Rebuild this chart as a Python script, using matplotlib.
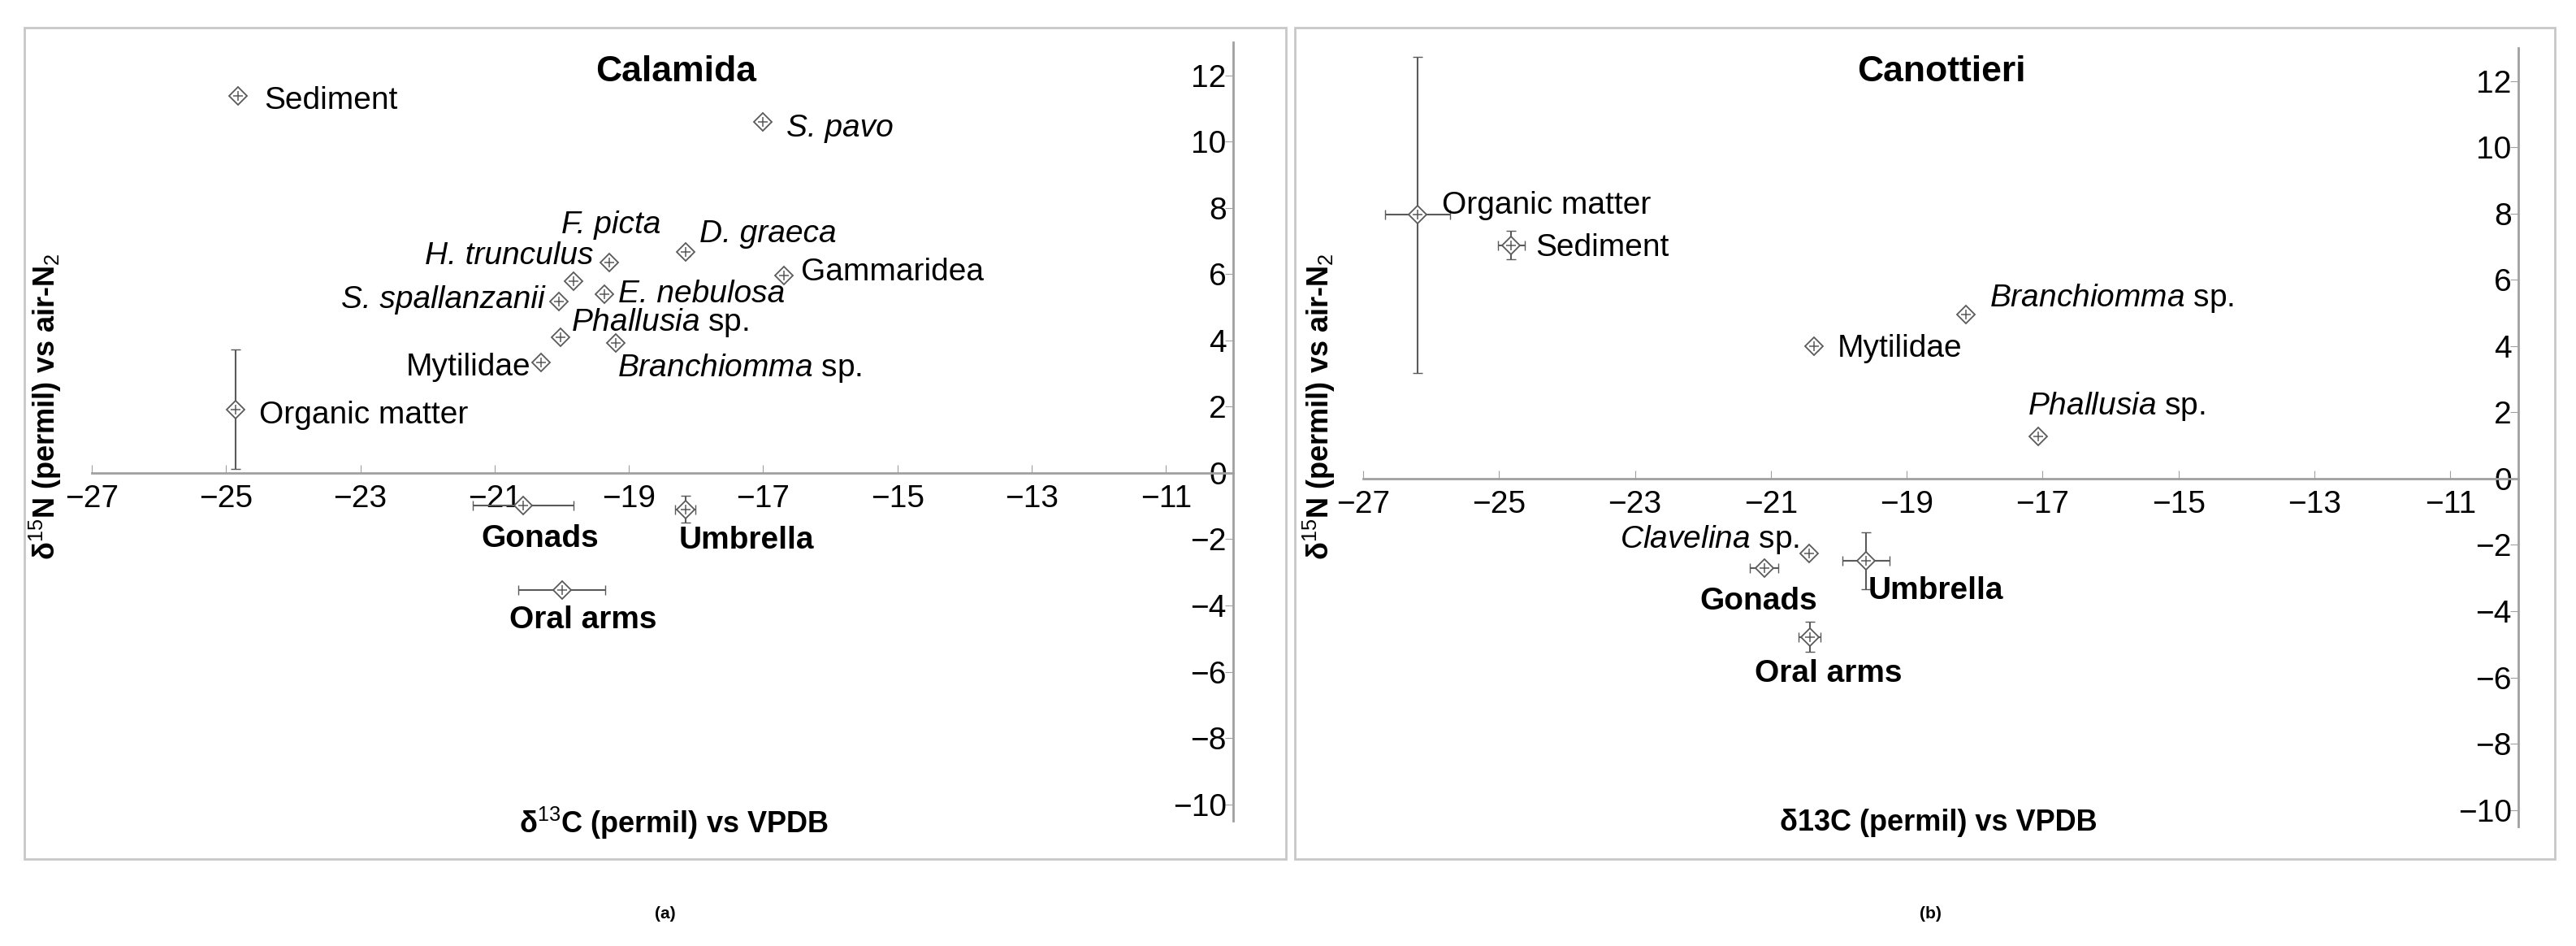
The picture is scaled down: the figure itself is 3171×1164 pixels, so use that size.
import matplotlib
matplotlib.use("Agg")
import matplotlib.pyplot as plt
from matplotlib.patches import Rectangle

plt.rcParams['font.family'] = ['Liberation Sans', 'DejaVu Sans']
plt.rcParams['mathtext.fontset'] = 'custom'
plt.rcParams['mathtext.rm'] = 'Liberation Sans'
plt.rcParams['mathtext.it'] = 'Liberation Sans:italic'
plt.rcParams['mathtext.bf'] = 'Liberation Sans:bold'

# Calamida (a)
cal_names = ["Sediment", "Organic matter", "S. pavo", "D. graeca", "Gammaridea",
             "E. nebulosa", r"$\it{Phallusia}$ sp.", r"$\it{Branchiomma}$ sp.",
             "F. picta", "H. trunculus", "S. spallanzanii", "Mytilidae",
             "Gonads", "Umbrella", "Oral arms"]
cal_c = [-24.82, -24.86, -17.0, -18.15, -16.69, -19.37, -20.02, -19.19, -19.82, -19.29, -20.04, -20.31,
         -20.58, -18.16, -20.0]
cal_n = [11.38, 1.92, 10.6, 6.66, 5.97, 5.4, 4.09, 3.92, 5.78, 6.36, 5.17, 3.33, -0.98, -1.1, -3.54]
cal_cerr = [0, 0, 0, 0.05, 0, 0, 0, 0, 0, 0, 0, 0, 0.75, 0.15, 0.65]
cal_nerr = [0, 1.8, 0, 0.1, 0, 0, 0, 0, 0, 0, 0, 0, 0, 0.4, 0.1]
cal_bold = [False] * 12 + [True] * 3
cal_ital = [False, False, True, True, False, True, False, False, True, True, True, False, False, False, False]
# label offsets in pixels and alignment
cal_off = [(32, -6), (29, -7), (29, -8), (17, 22), (21, 4), (17, 0), (13, 18), (2, -31),
           (46, 69), (-20, 8), (-18, 2), (-13, -6), (21, -41), (75, -38), (26, -37)]
cal_ha = ["left", "left", "left", "left", "left", "left", "left", "left", "center", "right",
          "right", "right", "center", "center", "center"]

# Canottieri (b)
can_names = ["Organic matter", "Sediment", "Mytilidae", r"$\it{Branchiomma}$ sp.", r"$\it{Phallusia}$ sp.",
             r"$\it{Clavelina}$ sp.", "Gonads", "Umbrella", "Oral arms"]
can_c = [-26.2, -24.82, -20.36, -18.13, -17.07, -20.44, -21.1, -19.6, -20.43]
can_n = [7.96, 7.05, 4.0, 4.96, 1.27, -2.27, -2.69, -2.48, -4.78]
can_cerr = [0.48, 0.2, 0.05, 0, 0, 0, 0.21, 0.35, 0.16]
can_nerr = [4.78, 0.42, 0.05, 0, 0, 0, 0, 0.86, 0.45]
can_bold = [False] * 6 + [True] * 3
can_ital = [False] * 9
can_off = [(30, 11), (30, -3), (28, -3), (29, 20), (-13, 37), (-12, 17), (-7, -41), (3, -37), (23, -45)]
can_ha = ["left", "left", "left", "left", "left", "right", "center", "left", "center"]

W, H = 3171, 1164
fig = plt.figure(figsize=(W / 100, H / 100), dpi=100)

# panel frames
for x0, x1 in [(30, 1583), (1594, 3145)]:
    fig.patches.append(Rectangle((x0 / W, 1 - 1057 / H), (x1 - x0) / W, (1057 - 34) / H,
                                 transform=fig.transFigure, fill=False, edgecolor="#c8c8c8", lw=2))

gray = "#5a5a5a"


def panel(rect, c, n, cerr, nerr, names, off, ha, bold, ital, xlim):
    ax = fig.add_axes(rect)
    ax.errorbar(c, n, xerr=cerr, yerr=nerr, fmt="none", ecolor=gray, elinewidth=1.5, capsize=4)
    ax.plot(c, n, "D", ms=11, mfc="white", mec=gray, mew=1.3, ls="none")
    ax.plot(c, n, "+", ms=9, color=gray, mew=1.1, ls="none")
    for xi, yi, s, o, h, b, it in zip(c, n, names, off, ha, bold, ital):
        ax.annotate(s, (xi, yi), xytext=o, textcoords="offset pixels", ha=h, va="center",
                    fontsize=28, fontweight="bold" if b else "normal",
                    fontstyle="italic" if it else "normal")
    ax.set_xlim(*xlim)
    ax.set_ylim(-10.5, 13)
    ax.set_xticks(range(-27, -10, 2))
    ax.set_yticks(range(-10, 13, 2))
    ax.spines["top"].set_visible(False)
    ax.spines["left"].set_visible(False)
    ax.spines["bottom"].set_position(("data", 0))
    for sp in ["bottom", "right"]:
        ax.spines[sp].set_color("#a0a0a0")
        ax.spines[sp].set_linewidth(2)
    ax.yaxis.tick_right()
    ax.tick_params(axis="x", direction="in", length=7, color="#a0a0a0", labelsize=28, pad=10)
    ax.tick_params(axis="y", direction="in", length=7, color="#a0a0a0", labelsize=28, pad=-6)
    for lab in ax.get_yticklabels():
        lab.set_horizontalalignment("right")
    ax.patch.set_alpha(0)
    return ax


panel([113 / W, 1 - 1010 / H, (1518 - 113) / W, (1010 - 52) / H], cal_c, cal_n, cal_cerr, cal_nerr,
      cal_names, cal_off, cal_ha, cal_bold, cal_ital, (-27, -10))
panel([1678 / W, 1 - 1017 / H, (3100 - 1678) / W, (1017 - 59) / H], can_c, can_n, can_cerr, can_nerr,
      can_names, can_off, can_ha, can_bold, can_ital, (-27, -10))

fig.text(832 / W, 1 - 88 / H, "Calamida", fontsize=32, fontweight="bold", ha="center", va="center")
fig.text(2390 / W, 1 - 88 / H, "Canottieri", fontsize=32, fontweight="bold", ha="center", va="center")

ylab = r"δ$^{15}$N (permil) vs air-N$_{2}$"
fig.text(56 / W, 1 - 500 / H, ylab, rotation=90, fontsize=26, fontweight="bold", ha="center", va="center")
fig.text(1624 / W, 1 - 500 / H, ylab, rotation=90, fontsize=26, fontweight="bold", ha="center", va="center")
fig.text(829 / W, 1 - 1013 / H, r"δ$^{13}$C (permil) vs VPDB", fontsize=26, fontweight="bold",
         ha="center", va="center")
fig.text(2386 / W, 1 - 1013 / H, "δ13C (permil) vs VPDB", fontsize=26, fontweight="bold",
         ha="center", va="center")
fig.text(819 / W, 1 - 1125 / H, "(a)", fontsize=15, fontweight="bold", ha="center", va="center")
fig.text(2376 / W, 1 - 1125 / H, "(b)", fontsize=15, fontweight="bold", ha="center", va="center")

fig.savefig("out.png", dpi=100)
